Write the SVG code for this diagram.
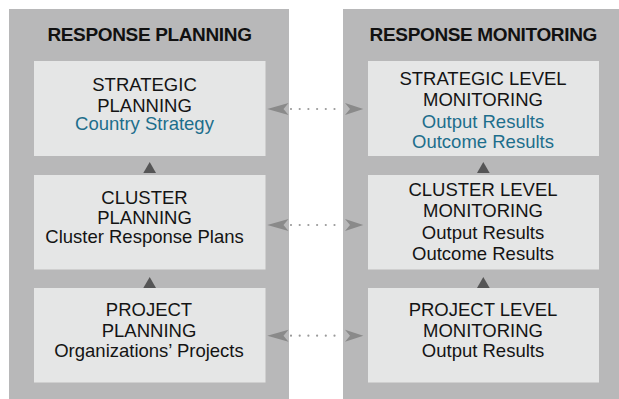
<svg xmlns="http://www.w3.org/2000/svg" width="619" height="399" viewBox="0 0 619 399">
<defs>
<style>
.panel{fill:#b8b8b9}
.box{fill:#e5e6e6}
.t{font-family:"Liberation Sans",Arial,sans-serif;font-size:18.5px;fill:#141414;text-anchor:middle}
.b{fill:#1d6e8c}
.title{font-family:"Liberation Sans",Arial,sans-serif;font-size:19px;font-weight:bold;fill:#111;text-anchor:middle;letter-spacing:-0.35px}
.tri{fill:#555556}
.head{fill:#8a8a8a}
.dots{stroke:#9a9a9a;stroke-width:2.2;stroke-linecap:round;stroke-dasharray:0 8.7;fill:none}
</style>
</defs>
<rect width="619" height="399" fill="#ffffff"/>
<g id="panel-planning">
<rect class="panel" x="9" y="9" width="280" height="390"/>
<text class="title" x="149.5" y="41">RESPONSE PLANNING</text>
</g>
<g id="panel-monitoring">
<rect class="panel" x="343" y="9" width="276" height="390"/>
<text class="title" x="483.3" y="41">RESPONSE MONITORING</text>
</g>
<g id="strategic-planning">
<rect class="box" x="34" y="61" width="231.5" height="95"/>
<text class="t" x="144.5" y="91">STRATEGIC</text>
<text class="t" x="144.5" y="111.5">PLANNING</text>
<text class="t b" x="144.5" y="130">Country Strategy</text>
</g>
<g id="cluster-planning">
<rect class="box" x="34" y="175" width="231.5" height="94.5"/>
<text class="t" x="144.5" y="204">CLUSTER</text>
<text class="t" x="144.5" y="224.3">PLANNING</text>
<text class="t" x="144.5" y="243.3">Cluster Response Plans</text>
</g>
<g id="project-planning">
<rect class="box" x="34" y="288" width="231.5" height="94.5"/>
<text class="t" x="149" y="316">PROJECT</text>
<text class="t" x="149" y="337.3">PLANNING</text>
<text class="t" x="149" y="356.7">Organizations’ Projects</text>
</g>
<g id="strategic-monitoring">
<rect class="box" x="368" y="61" width="231" height="95"/>
<text class="t" x="483" y="85">STRATEGIC LEVEL</text>
<text class="t" x="483" y="105.7">MONITORING</text>
<text class="t b" x="483" y="127.7">Output Results</text>
<text class="t b" x="483" y="148.3">Outcome Results</text>
</g>
<g id="cluster-monitoring">
<rect class="box" x="368" y="175" width="231" height="94.5"/>
<text class="t" x="483" y="195.7">CLUSTER LEVEL</text>
<text class="t" x="483" y="216.7">MONITORING</text>
<text class="t" x="483" y="239">Output Results</text>
<text class="t" x="483" y="260">Outcome Results</text>
</g>
<g id="project-monitoring">
<rect class="box" x="368" y="288" width="231" height="94.5"/>
<text class="t" x="483" y="315.7">PROJECT LEVEL</text>
<text class="t" x="483" y="336.7">MONITORING</text>
<text class="t" x="483" y="356.7">Output Results</text>
</g>
<g id="connectors">
<polygon class="tri" points="143.3,173 156,173 149.7,162"/>
<polygon class="tri" points="143.3,288 156,288 149.7,277"/>
<polygon class="tri" points="477,173 489.7,173 483.3,162"/>
<polygon class="tri" points="477,288 489.7,288 483.3,277"/>
<g id="link-strategic">
<line class="dots" x1="291" y1="109" x2="343" y2="109"/>
<polygon class="head" points="267.3,109 288.5,103 283.5,109 288.5,115"/>
<polygon class="head" points="363.3,109 345,103 350,109 345,115"/>
</g>
<g id="link-cluster">
<line class="dots" x1="291" y1="225" x2="343" y2="225"/>
<polygon class="head" points="267.3,225 288.5,219 283.5,225 288.5,231"/>
<polygon class="head" points="363.3,225 345,219 350,225 345,231"/>
</g>
<g id="link-project">
<line class="dots" x1="291" y1="335.7" x2="343" y2="335.7"/>
<polygon class="head" points="267.3,335.7 288.5,329.7 283.5,335.7 288.5,341.7"/>
<polygon class="head" points="363.3,335.7 345,329.7 350,335.7 345,341.7"/>
</g>
</g>
</svg>
